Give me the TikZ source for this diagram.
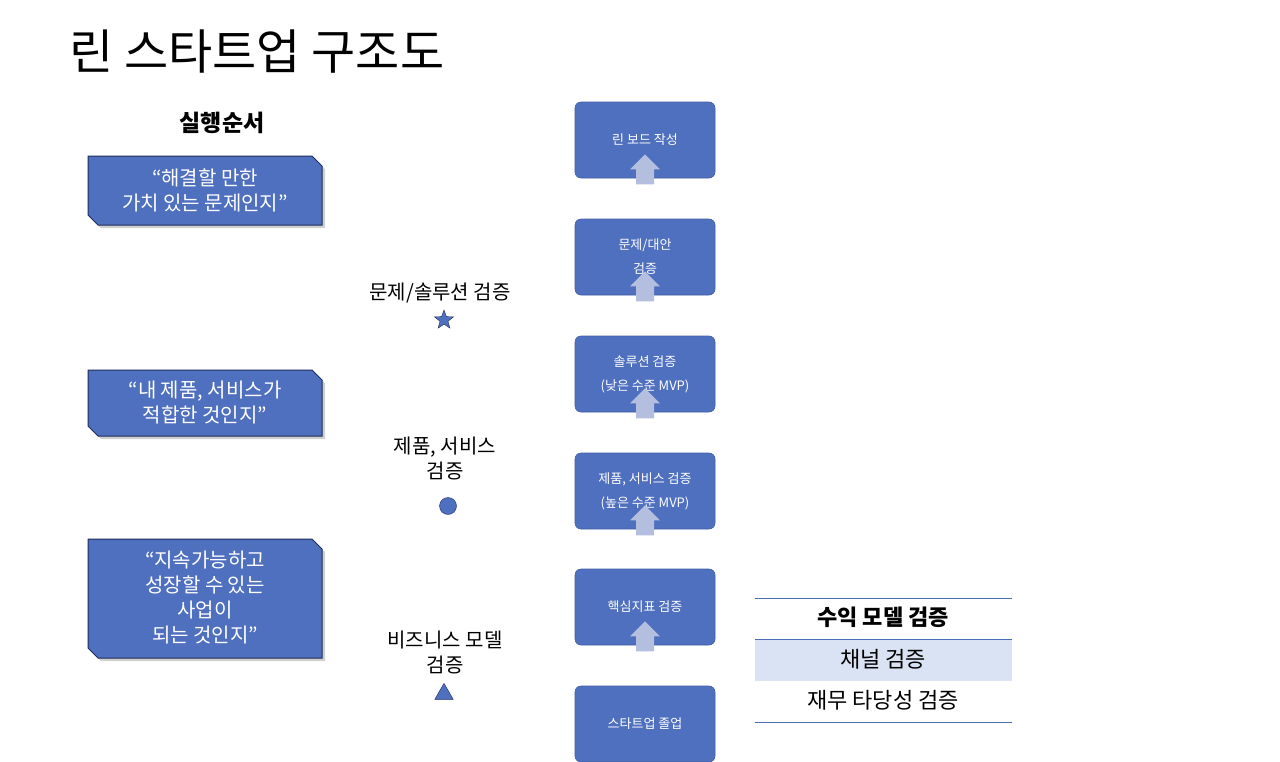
\documentclass[tikz,border=0pt]{standalone}
\usepackage{fontspec}
\setmainfont{Noto Sans CJK KR}
\usetikzlibrary{shapes.geometric,shadows}
\definecolor{boxblue}{HTML}{4F6FBF}
\definecolor{navy}{HTML}{1F2D5A}
\definecolor{arrowc}{HTML}{B4BEDF}
\definecolor{band}{HTML}{DAE3F3}
\definecolor{rule}{HTML}{4A6BB5}
\tikzset{
  stepbox/.style={fill=boxblue,draw=boxblue!85!black,line width=0.6pt,rounded corners=6pt,minimum width=140pt,minimum height=76pt,text=white,font=\fontsize{13}{24}\selectfont,align=center,inner sep=0pt},
  qtext/.style={text=white,font=\fontsize{20}{25}\selectfont,align=center},
  lbl/.style={font=\fontsize{20}{25}\selectfont,align=center},
  tbl/.style={font=\fontsize{22}{26}\selectfont},
}
\newcommand{\snipbox}[4]{% x1 y1 x2 y2
  \fill[gray!60,opacity=0.6] (#1+3,#2+3+0) -- (#3-10+3,#2+3) -- (#3+3,#2+10+3) -- (#3+3,#4+3) -- (#1+10+3,#4+3) -- (#1+3,#4-10+3) -- cycle;
  \draw[fill=boxblue,draw=navy,line width=1pt] (#1,#2) -- (#3-10,#2) -- (#3,#2+10) -- (#3,#4) -- (#1+10,#4) -- (#1,#4-10) -- cycle;}
\begin{document}
\begin{tikzpicture}[x=1pt,y=-1pt]
\useasboundingbox (0,0) rectangle (1280,761);
\clip (0,0) rectangle (1280,761);
\fill[white] (0,0) rectangle (1280,761);
\node[anchor=west,font=\fontsize{48}{50}\selectfont] (title) at (66,52) {린 스타트업 구조도};
\node[font=\bfseries\fontsize{23}{26}\selectfont] (order) at (222,123) {실행순서};
% left quote boxes
\snipbox{88}{156}{322}{225}
\node[qtext] (q1) at (205,190) {“해결할 만한\\가치 있는 문제인지”};
\snipbox{88}{370}{322}{436}
\node[qtext] (q2) at (205,403) {“내 제품, 서비스가\\적합한 것인지”};
\snipbox{88}{539}{322}{658}
\node[qtext] (q3) at (205,598) {“지속가능하고\\성장할 수 있는\\사업이\\되는 것인지”};
% middle labels
\node[lbl] (l1) at (440,293) {문제/솔루션 검증};
\node[star,star points=5,star point ratio=2.4,fill=boxblue,draw=navy,inner sep=0pt,minimum size=20pt] (s1) at (444,320) {};
\node[lbl] (l2) at (445,458) {제품, 서비스\\검증};
\node[circle,fill=boxblue,draw=navy,minimum size=17pt,inner sep=0pt] (s2) at (448,506) {};
\node[lbl] (l3) at (445,652) {비즈니스 모델\\검증};
\node[isosceles triangle,isosceles triangle apex angle=60,shape border rotate=90,fill=boxblue,draw=navy,minimum size=16pt,inner sep=0pt] (s3) at (444,694) {};
% step boxes
\node[stepbox] (b1) at (645,140) {린 보드 작성};
\node[stepbox] (b2) at (645,257) {문제/대안\\검증};
\node[stepbox] (b3) at (645,374) {솔루션 검증\\(낮은 수준 MVP)};
\node[stepbox] (b4) at (645,491) {제품, 서비스 검증\\(높은 수준 MVP)};
\node[stepbox] (b5) at (645,607) {핵심지표 검증};
\node[stepbox] (b6) at (645,724) {스타트업 졸업};
\foreach \a/\b in {b1/b2,b2/b3,b3/b4,b4/b5,b5/b6}{
  \path (\a.south) ++(0,6) coordinate (t);
  \fill[arrowc] ([xshift=-9pt]t) -- ([xshift=9pt]t) -- ([xshift=9pt,yshift=15pt]t) -- ([xshift=15pt,yshift=15pt]t) -- ([yshift=30pt]t) -- ([xshift=-15pt,yshift=15pt]t) -- ([xshift=-9pt,yshift=15pt]t) -- cycle;
}
% table
\fill[band] (755,640) rectangle (1012,681);
\draw[rule,line width=1pt] (755,598) -- (1012,598);
\draw[rule,line width=1pt] (755,639.5) -- (1012,639.5);
\draw[rule,line width=1pt] (755,722) -- (1012,722);
\node[tbl,font=\bfseries\fontsize{22}{26}\selectfont] (t1) at (883,617) {수익 모델 검증};
\node[tbl] (t2) at (883,659) {채널 검증};
\node[tbl] (t3) at (883,700) {재무 타당성 검증};
\end{tikzpicture}
\end{document}
